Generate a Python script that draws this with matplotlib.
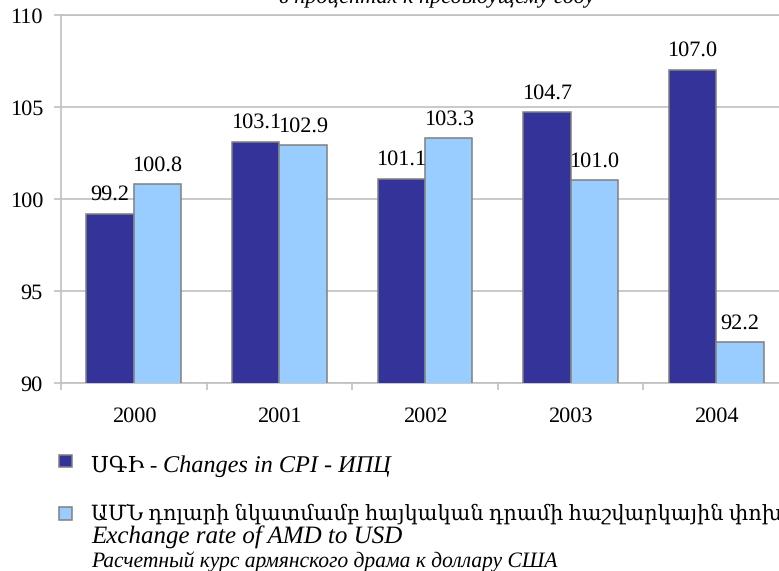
import matplotlib
matplotlib.use('Agg')
import matplotlib.pyplot as plt
import numpy as np
from matplotlib.patches import Rectangle
from matplotlib.font_manager import FontProperties, findfont

years = ['2000', '2001', '2002', '2003', '2004']
cpi = [99.2, 103.1, 101.1, 104.7, 107.0]
exch = [100.8, 102.9, 103.3, 101.0, 92.2]
yticks = [90, 95, 100, 105, 110]

title = 'в процентах к предыдущему году'
leg1_arm = 'ՍԳԻ - '
leg1_it = 'Changes in CPI - ИПЦ'
leg2_arm = 'ԱՄՆ դոլարի նկատմամբ հայկական դրամի հաշվարկային փոխարժեք'
leg2_en = 'Exchange rate of AMD to USD'
leg2_ru = 'Расчетный курс армянского драма к доллару США'

W, H = 779, 571
SERIF = ['Liberation Serif', 'DejaVu Serif']
LIB = 'Liberation Serif'
plt.rcParams['font.family'] = SERIF
plt.rcParams['text.hinting'] = 'no_hinting'

it_path = findfont(FontProperties(family=LIB, style='italic', size=15))


def itfp(size):
    return FontProperties(fname=it_path, size=size)


dark = '#333399'
light = '#99CCFF'
edge = '#808080'
grid = '#C0C0C0'
FS = 16

fig = plt.figure(figsize=(W / 100, H / 100), dpi=100)
ax = fig.add_axes([61 / W, 1 - 383 / H, 728 / W, (383 - 14.7) / H])

x = np.arange(len(years))
w = 0.325
ax.bar(x - w / 2, cpi, w, color=dark, edgecolor=edge, linewidth=1.1, zorder=3)
ax.bar(x + w / 2, exch, w, color=light, edgecolor=edge, linewidth=1.1, zorder=3)

for xi, v in zip(x - w / 2, cpi):
    ax.annotate(f'{v:.1f}', (xi, v), xytext=(0, 10), textcoords='offset points',
                ha='center', va='baseline', fontsize=FS, family=LIB)
for xi, v in zip(x + w / 2, exch):
    ax.annotate(f'{v:.1f}', (xi, v), xytext=(0, 10), textcoords='offset points',
                ha='center', va='baseline', fontsize=FS, family=LIB)

ax.set_ylim(yticks[0], yticks[-1])
ax.set_xlim(-0.5, len(years) - 0.5)
ax.set_yticks(yticks)
ax.set_yticklabels([str(t) for t in yticks], fontsize=FS, family=LIB)
ax.yaxis.grid(True, color=grid, linewidth=1.2, zorder=0)
ax.set_axisbelow(True)

ax.set_xticks(x)
ax.set_xticklabels(years, fontsize=FS, family=LIB)
ax.set_xticks(np.arange(len(years) + 1) - 0.5, minor=True)
ax.tick_params(axis='x', which='major', length=0, pad=17)
ax.tick_params(axis='x', which='minor', length=5, color=grid, width=1.2)
ax.tick_params(axis='y', length=5, color=grid, width=1.2, pad=8)

for s in ['left', 'bottom', 'top']:
    ax.spines[s].set_color(grid)
    ax.spines[s].set_linewidth(1.2)
ax.spines['right'].set_visible(False)

# clipped title at top
fig.text(437 / W, 1 - 3.5 / H, title, ha='center', va='baseline',
         fontproperties=itfp(FS))

# legend
fig.patches.append(Rectangle((59 / W, 1 - 467 / H), 13 / W, 12 / H,
                             transform=fig.transFigure, facecolor=dark,
                             edgecolor=edge, linewidth=1.1))
fig.patches.append(Rectangle((59 / W, 1 - 520 / H), 13 / W, 13 / H,
                             transform=fig.transFigure, facecolor=light,
                             edgecolor=edge, linewidth=1.1))

tx = 91 / W
t1 = fig.text(tx, 1 - 472 / H, leg1_arm, ha='left', va='baseline', fontsize=16)
fig.canvas.draw()
r = fig.canvas.get_renderer()
bb = t1.get_window_extent(r)
fig.text(bb.x1 / W, 1 - 472 / H, leg1_it, ha='left', va='baseline',
         fontproperties=itfp(17.5))

fig.text(tx, 1 - 520 / H, leg2_arm, ha='left', va='baseline', fontsize=15)
fig.text(tx, 1 - 543 / H, leg2_en, ha='left', va='baseline',
         fontproperties=itfp(18))
fig.text(tx, 1 - 567 / H, leg2_ru, ha='left', va='baseline',
         fontproperties=itfp(15.5))

fig.savefig('out.png', dpi=100)
